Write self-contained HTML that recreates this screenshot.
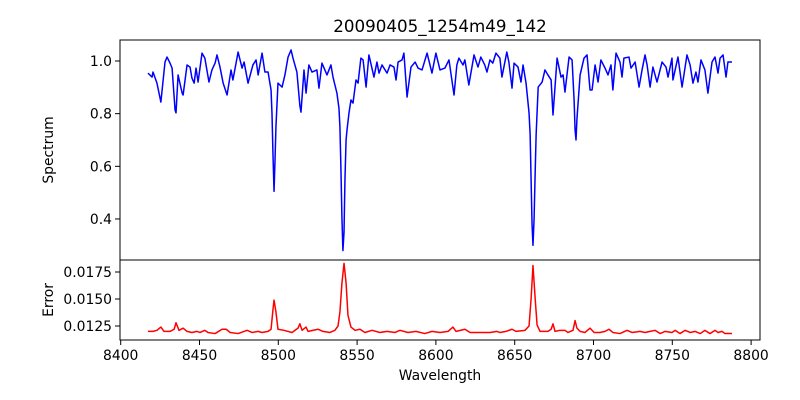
<!DOCTYPE html>
<html><head><meta charset="utf-8"><style>
body{margin:0;background:#fff}
svg{display:block;font-family:"DejaVu Sans","Liberation Sans",sans-serif}
</style></head><body>
<svg id="chart" width="800" height="400" viewBox="0 0 800 400" xmlns="http://www.w3.org/2000/svg">
<rect width="800" height="400" fill="#fff"/>
<text x="440" y="32" font-size="16.7" text-anchor="middle">20090405_1254m49_142</text>
<g id="topPanel"></g>
<g id="botPanel"></g>
<text transform="translate(53,150) rotate(-90)" font-size="13.9" text-anchor="middle">Spectrum</text>
<text transform="translate(53,300) rotate(-90)" font-size="13.9" text-anchor="middle">Error</text>
<text x="440" y="380" font-size="13.9" text-anchor="middle">Wavelength</text>
</svg>
<script>
const specWl=[8417.3,8419.9,8420.5,8423.0,8425.5,8428.1,8429.4,8431.3,8432.6,8434.5,8435.1,8436.4,8439.0,8439.6,8442.1,8444.0,8445.2,8446.6,8447.8,8449.1,8451.6,8453.4,8456.0,8457.9,8459.9,8461.1,8463.0,8465.0,8467.5,8470.0,8471.2,8474.5,8477.0,8478.3,8480.8,8483.9,8485.9,8487.2,8489.7,8491.5,8493.5,8495.4,8496.0,8496.6,8497.3,8497.9,8498.5,8499.8,8502.4,8504.2,8506.2,8508.1,8509.3,8511.8,8513.7,8514.4,8516.3,8517.6,8519.4,8521.4,8524.5,8525.8,8527.7,8530.9,8533.4,8534.7,8537.2,8538.5,8539.1,8539.7,8540.4,8541.0,8541.7,8542.3,8543.0,8543.6,8544.8,8546.1,8547.4,8549.3,8550.6,8552.4,8553.8,8555.7,8557.5,8560.7,8562.6,8563.9,8565.8,8569.0,8570.9,8573.4,8574.7,8576.0,8578.5,8579.7,8581.7,8584.2,8586.8,8588.7,8591.2,8594.4,8597.5,8600.0,8602.6,8605.7,8608.3,8611.5,8613.3,8614.6,8617.2,8618.4,8620.9,8624.2,8626.7,8628.5,8631.0,8632.4,8634.3,8636.1,8638.1,8640.6,8641.9,8645.0,8646.3,8648.3,8649.6,8652.1,8654.0,8655.3,8657.2,8659.1,8659.8,8660.4,8661.0,8661.6,8662.3,8663.0,8663.6,8664.9,8667.4,8669.2,8671.1,8673.1,8674.3,8676.9,8679.4,8680.7,8681.9,8684.5,8686.4,8687.7,8688.3,8688.9,8689.5,8691.5,8694.0,8695.9,8697.8,8699.1,8701.0,8702.9,8704.7,8707.3,8709.2,8711.1,8712.3,8714.3,8716.8,8718.1,8719.3,8722.5,8723.8,8726.4,8728.9,8730.8,8732.7,8734.0,8735.9,8737.7,8740.3,8743.5,8746.0,8747.3,8749.8,8750.4,8753.6,8756.2,8759.3,8761.3,8763.1,8765.0,8766.3,8768.2,8770.7,8772.6,8775.2,8777.1,8779.0,8780.3,8782.2,8784.1,8785.3,8787.9];
const specFlux=[.954,.939,.958,.916,.844,.996,1.015,.992,.973,.814,.803,.947,.878,.871,.985,.977,.935,.916,.973,.920,1.030,1.011,.920,.966,.992,1.023,.977,.916,.871,.966,.928,1.034,.973,.996,.916,.985,1.004,.947,1.030,.958,.958,.890,.80,.65,.505,.62,.75,.916,.901,.947,1.015,1.042,1.011,.958,.83,.806,.966,.878,.985,.958,.966,.897,.992,.947,.985,.939,.878,.82,.75,.6,.4,.28,.35,.55,.70,.738,.80,.852,.840,.928,.916,1.011,1.004,.901,1.023,.939,.996,.954,.985,.954,.985,.977,.928,.996,1.004,1.030,.863,.977,.996,.973,.966,1.030,.954,1.030,.966,.973,1.004,.871,.985,1.011,.985,1.004,.909,1.023,.977,1.015,.985,.958,1.004,.992,1.030,1.011,.939,1.034,.996,.897,.992,.977,.920,.985,.916,.803,.72,.55,.38,.30,.40,.58,.72,.901,.920,.966,.947,.928,.795,1.011,.939,.947,.882,1.015,1.004,.85,.738,.70,.78,.947,1.011,1.023,.890,.890,.985,.920,1.004,.973,.947,.985,.890,1.030,.996,.939,1.011,1.015,.973,.996,.901,.966,1.023,.985,.901,.977,.920,.996,.977,.939,1.011,.928,1.015,.901,1.023,.985,.916,.958,.920,1.004,.966,.878,.996,1.015,.954,1.011,1.023,.939,.996,.996];
const errWl=[8417.3,8420.5,8423.0,8425.5,8427.5,8431.3,8433.9,8435.1,8437.0,8439.6,8442.1,8445.2,8448.4,8450.3,8453.4,8455.4,8459.9,8464.3,8466.9,8469.4,8474.5,8480.2,8483.3,8487.2,8489.7,8493.5,8495.4,8496.6,8497.3,8498.5,8499.8,8503.6,8508.7,8512.5,8513.7,8515.1,8517.6,8518.9,8525.2,8528.3,8532.8,8535.9,8537.9,8539.1,8540.4,8541.7,8543.0,8544.2,8546.1,8548.7,8551.8,8555.0,8559.5,8564.5,8569.0,8574.1,8577.2,8582.3,8587.4,8593.0,8597.5,8602.6,8607.7,8610.8,8612.8,8618.4,8621.7,8627.9,8634.3,8638.7,8640.6,8644.5,8648.3,8650.8,8656.5,8659.1,8660.4,8661.6,8663.0,8664.2,8666.1,8671.1,8673.1,8674.3,8675.6,8678.7,8681.9,8683.8,8687.0,8688.3,8689.5,8691.5,8694.6,8697.8,8700.4,8704.1,8707.3,8709.8,8712.3,8716.8,8721.3,8724.4,8729.5,8732.7,8735.9,8739.1,8742.2,8745.4,8749.8,8751.8,8754.9,8758.1,8761.3,8764.5,8767.7,8770.7,8773.9,8777.1,8779.0,8781.5,8783.4,8787.9];
const errVal=[.0120,.0120,.0121,.0124,.0120,.0120,.0122,.0128,.0121,.0123,.0120,.0119,.0120,.0119,.0121,.0119,.0118,.0122,.0122,.0119,.0118,.0121,.0119,.0120,.0119,.0120,.0122,.0140,.0149,.0138,.0122,.0121,.0119,.0123,.0127,.0121,.0124,.0120,.0122,.0120,.0119,.0121,.0125,.0138,.0165,.0183,.0165,.0135,.0124,.0121,.0122,.0119,.0121,.0119,.0120,.0119,.0121,.0119,.0120,.0118,.0120,.0119,.0120,.0124,.0120,.0122,.0119,.0119,.0119,.0120,.0119,.0120,.0122,.0120,.0121,.0125,.0150,.0181,.0150,.0126,.0120,.0120,.0122,.0127,.0120,.0121,.0121,.0119,.0121,.0130,.0123,.0120,.0119,.0123,.0119,.0119,.0120,.0122,.0119,.0118,.0121,.0119,.0120,.0119,.0120,.0121,.0118,.0120,.0119,.0121,.0118,.0121,.0119,.0120,.0118,.0121,.0118,.0121,.0119,.0120,.0118,.0118];
const xTicks=[8400,8450,8500,8550,8600,8650,8700,8750,8800];
const topTicks=[0.4,0.6,0.8,1.0];
const topTickLabels=["0.4","0.6","0.8","1.0"];
const botTicks=[0.0125,0.0150,0.0175];
const botTickLabels=["0.0125","0.0150","0.0175"];

const NS="http://www.w3.org/2000/svg";
const L=120,R=760;
const xs=v=>120.7+(v-8400)*1.576;
const ysTop=v=>61+(1-v)*263.3;
const ysBot=v=>326-(v-0.0125)*10800;
function mk(tag,attrs,parent){const e=document.createElementNS(NS,tag);for(const k in attrs)e.setAttribute(k,attrs[k]);parent.appendChild(e);return e;}
const topG=document.getElementById('topPanel'),botG=document.getElementById('botPanel');

function drawLine(g,xsArr,ysArr,yf,color,name,clipId,y0,y1){
  const cp=mk('clipPath',{id:clipId},g);mk('rect',{x:L,y:y0,width:R-L,height:y1-y0},cp);
  const d=xsArr.map((w,i)=>(i?'L':'M')+xs(w).toFixed(2)+','+yf(ysArr[i]).toFixed(2)).join('');
  const p=mk('path',{d:d,fill:'none',stroke:color,'stroke-width':1.5,'stroke-linejoin':'round','clip-path':'url(#'+clipId+')'},g);
  
  
}
drawLine(topG,specWl,specFlux,ysTop,'#0000ff','spectrum-line','ct',40,260);
drawLine(botG,errWl,errVal,ysBot,'#ff0000','error-line','cb',260,340);

const f1=mk('rect',{x:L,y:40,width:R-L,height:220,fill:'none',stroke:'#000','stroke-width':1},topG);


const f2=mk('rect',{x:L,y:260,width:R-L,height:80,fill:'none',stroke:'#000','stroke-width':1},botG);



topTicks.forEach((v,i)=>{
  const y=ysTop(v);
  mk('line',{x1:L-5,x2:L,y1:y,y2:y,stroke:'#000'},topG);
  const t=mk('text',{x:L-8,y:y+5,'font-size':13.9,'text-anchor':'end'},topG);
  t.textContent=topTickLabels[i];
  
  
});
botTicks.forEach((v,i)=>{
  const y=ysBot(v);
  mk('line',{x1:L-5,x2:L,y1:y,y2:y,stroke:'#000'},botG);
  const t=mk('text',{x:L-8,y:y+5,'font-size':13.9,'text-anchor':'end'},botG);
  t.textContent=botTickLabels[i];
  
  
});
xTicks.forEach(v=>{
  const x=xs(v);
  mk('line',{x1:x,x2:x,y1:340,y2:345,stroke:'#000'},botG);
  const t=mk('text',{x:x,y:360,'font-size':13.9,'text-anchor':'middle'},botG);
  t.textContent=String(v);
  
  
});
</script>
</body></html>
